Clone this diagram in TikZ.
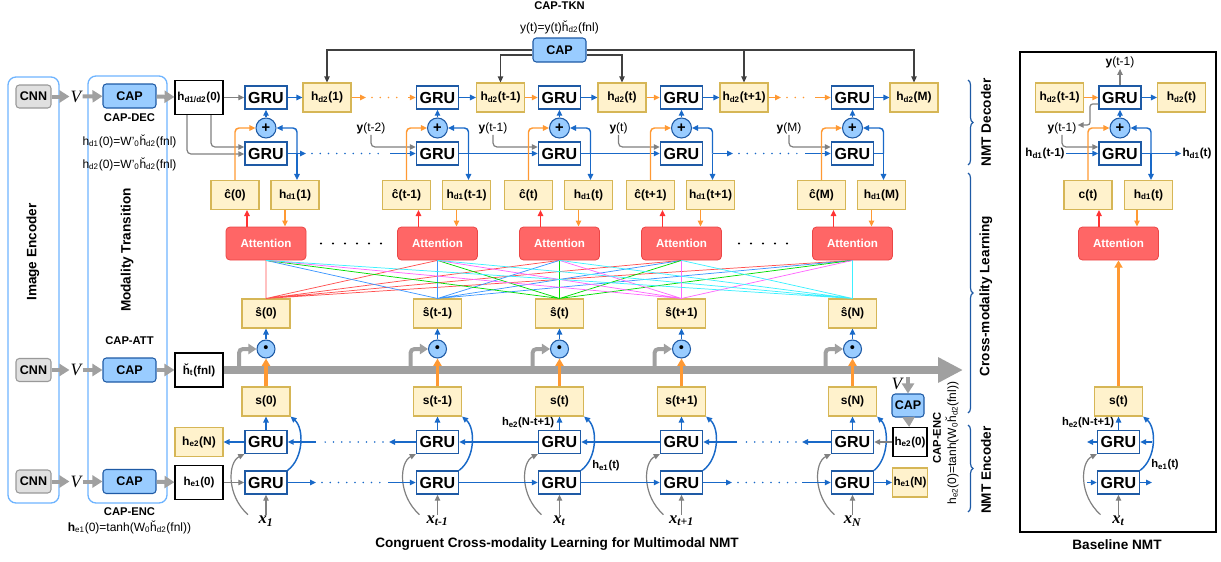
\documentclass[tikz,border=0pt]{standalone}
\usepackage{amssymb, mathtools, amsmath}
\usepackage{fontspec}
\setmainfont{Liberation Sans}
\newfontfamily\tmsfont{Liberation Serif}
\usetikzlibrary{arrows.meta,decorations.pathreplacing}

\definecolor{grublue}{RGB}{30,90,165}
\definecolor{lineblue}{RGB}{25,105,200}
\definecolor{capfill}{RGB}{153,204,255}
\definecolor{yelfill}{RGB}{255,242,204}
\definecolor{yelbord}{RGB}{214,182,86}
\definecolor{attfill}{RGB}{255,102,102}
\definecolor{attbord}{RGB}{235,70,70}
\definecolor{orangeln}{RGB}{255,153,51}
\definecolor{redln}{RGB}{255,51,51}
\definecolor{grayln}{RGB}{128,128,128}
\definecolor{barg}{RGB}{160,160,160}
\definecolor{panelblue}{RGB}{110,180,255}
\definecolor{lsred}{RGB}{255,80,80}
\definecolor{lsblue}{RGB}{60,150,255}
\definecolor{lsgreen}{RGB}{0,220,0}
\definecolor{lsmag}{RGB}{255,102,255}
\definecolor{lscyan}{RGB}{60,240,255}

\begin{document}
\begin{tikzpicture}[x=0.75pt,y=0.75pt,yscale=-1,
  gru/.style={draw=grublue,fill=white,line width=1pt,minimum width=31.5pt,minimum height=17.25pt,inner sep=0pt,font=\fontsize{12}{12}\selectfont\bfseries},
  ybox/.style={draw=yelbord,fill=yelfill,line width=0.8pt,minimum width=36pt,minimum height=21.75pt,inner sep=0pt,font=\fontsize{9}{9}\selectfont\bfseries},
  wbox/.style={draw=black,fill=white,line width=0.8pt,minimum width=36pt,minimum height=25.5pt,inner sep=0pt,font=\fontsize{8.7}{9}\selectfont\bfseries},
  capbox/.style={draw=grublue,fill=capfill,rounded corners=2.5pt,line width=0.8pt,minimum width=39.75pt,minimum height=18pt,inner sep=0pt,font=\fontsize{9.4}{10}\selectfont\bfseries},
  cnnbox/.style={draw=black!40,fill=black!12,rounded corners=2.5pt,line width=0.8pt,minimum width=26.25pt,minimum height=17.25pt,inner sep=0pt,font=\fontsize{9.4}{10}\selectfont\bfseries},
  attbox/.style={draw=attbord,fill=attfill,rounded corners=3pt,line width=0.6pt,minimum width=60pt,minimum height=24.75pt,inner sep=0pt,text=white,font=\fontsize{8.7}{9}\selectfont\bfseries},
  plusc/.style={circle,draw=grublue,fill=capfill,line width=0.8pt,minimum size=15pt,inner sep=0pt,font=\fontsize{11}{11}\selectfont\bfseries},
  dotc/.style={circle,draw=grublue,fill=capfill,line width=0.8pt,minimum size=13.5pt,inner sep=0pt,font=\fontsize{11}{11}\selectfont},
  lbl/.style={inner sep=0.75pt,font=\fontsize{9}{10}\selectfont},
  blbl/.style={inner sep=0.75pt,font=\fontsize{8.4}{9}\selectfont\bfseries},
  ttl/.style={inner sep=0.75pt,font=\fontsize{10.2}{11}\selectfont\bfseries},
  vlbl/.style={inner sep=0.75pt,font=\tmsfont\fontsize{13}{13}\selectfont\itshape},
  xlbl/.style={inner sep=0.75pt,font=\tmsfont\fontsize{12.5}{13}\selectfont\bfseries\itshape},
  arrtip/.style={-{Triangle[length=4.5pt,width=4pt]}},
  barr/.style={draw=lineblue,line width=1.1pt,arrtip},
  bln/.style={draw=lineblue,line width=1.1pt},
  bdots/.style={draw=lineblue,line width=1.3pt,line cap=round,dash pattern=on 0pt off 6.2pt},
  oarr/.style={draw=orangeln,line width=1.1pt,arrtip},
  odots/.style={draw=orangeln,line width=1.3pt,line cap=round,dash pattern=on 0pt off 6.2pt},
  rarr/.style={draw=redln,line width=1.1pt,arrtip},
  garr/.style={draw=grayln,line width=0.9pt,arrtip},
  gthick/.style={draw=barg,line width=3pt,-{Triangle[length=7.5pt,width=9pt]}},
  gbend/.style={draw=barg,line width=3pt,rounded corners=3pt,-{Triangle[length=6pt,width=7.5pt]}},
  mainbar/.style={draw=barg,line width=6pt,-{Triangle[length=18.75pt,width=18pt]}},
  othick/.style={draw=orangeln,line width=2.3pt,-{Triangle[length=5.5pt,width=6pt]}},
  capln/.style={draw=black!75,line width=0.9pt,arrtip},
  attln/.style={line width=0.55pt},
  dots6/.style={draw=black,line width=1.8pt,line cap=round,dash pattern=on 0pt off 9pt},
  panel/.style={draw=panelblue,line width=1pt,rounded corners=6pt},
  brc/.style={draw=grublue,line width=0.9pt,decorate,decoration={brace,amplitude=3.75pt}}
  ]
\useasboundingbox (0,0) rectangle (1221,561);

%Shape: Rounded Rect [image encoder / modality transition]
\draw [panel] (8,77) rectangle (59,503);
\draw [panel] (88,76) rectangle (167,503);
% Text Node
\draw (33,252) node [ttl,rotate=90] (imgenc) {Image Encoder};
% Text Node
\draw (127,250) node [ttl,rotate=90] (modtr) {Modality Transition};

% ---- left column: CNN -> V -> CAP ----
\draw (33.5,96.5) node [cnnbox] (cnnD) {CNN};
\draw (76,96.5) node [vlbl] (vD) {V};
\draw (129.5,96) node [capbox] (capD) {CAP};
\draw (199,97.5) node [wbox] (hdz) {h\textsubscript{d1/d2}(0)};
\draw [gthick] (cnnD) -- (vD);
\draw [gthick] (vD) -- (capD);
\draw [gthick] (capD) -- (hdz);
\draw (129.5,118) node [blbl] {CAP-DEC};
\draw (129.5,141) node [lbl] {h\textsubscript{d1}(0)=W'\textsubscript{0}ȟ\textsubscript{d2}(fnl)};
\draw (129.5,164) node [lbl] {h\textsubscript{d2}(0)=W'\textsubscript{0}ȟ\textsubscript{d2}(fnl)};

\draw (33.5,370) node [cnnbox] (cnnA) {CNN};
\draw (76,370) node [vlbl] (vA) {V};
\draw (129.5,370) node [capbox] (capA) {CAP};
\draw (199,370) node [wbox] (hft) {ȟ\textsubscript{t}(fnl)};
\draw [gthick] (cnnA) -- (vA);
\draw [gthick] (vA) -- (capA);
\draw [gthick] (capA) -- (hft);
\draw (129.5,341) node [blbl] {CAP-ATT};

\draw (33.5,481.5) node [cnnbox] (cnnE) {CNN};
\draw (76,481.5) node [vlbl] (vE) {V};
\draw (129.5,481.5) node [capbox] (capE) {CAP};
\draw (199,482.5) node [wbox] (hez) {h\textsubscript{e1}(0)};
\draw [gthick] (cnnE) -- (vE);
\draw [gthick] (vE) -- (capE);
\draw [gthick] (capE) -- (hez);
\draw (129.5,512) node [blbl] {CAP-ENC};
\draw (129.5,527) node [lbl] {\textbf{h}\textsubscript{e1}(0)=tanh(W\textsubscript{0}ȟ\textsubscript{d2}(fnl))};

% ---- CAP-TKN ----
\draw (559.5,6) node [blbl] {CAP-TKN};
\draw (559.5,27) node [lbl] {y(t)=y(t)ȟ\textsubscript{d2}(fnl)};
\draw (559.5,50) node [capbox] (capT) {CAP};

% ---- step 1 ----
\draw (266,97.5) node [gru] (gdu1) {GRU};
\draw (266,153.5) node [gru] (gdl1) {GRU};
\draw (266,128) node [plusc] (pl1) {+};
\draw (327,97.5) node [ybox] (hdt1) {h\textsubscript{d2}(1)};
\draw (235,195) node [ybox] (ch1) {ĉ(0)};
\draw (295,195) node [ybox] (hdo1) {h\textsubscript{d1}(1)};
\draw (266,243.5) node [attbox] (att1) {Attention};
\draw (266,313.5) node [ybox] (sh1) {ŝ(0)};
\draw (266,349) node [dotc] (dt1) {\textbullet};
\draw (266,401.5) node [ybox] (s1) {s(0)};
\draw (266,442) node [gru] (geu1) {GRU};
\draw (266,482.5) node [gru] (gel1) {GRU};
\draw (266,521) node [xlbl] (xin1) {x\textsubscript{1}};
\coordinate (jn1) at (297,153.5);
\coordinate (br1) at (239,370);

% ---- step t-1 ----
\draw (437.5,97.5) node [gru] (gdu2) {GRU};
\draw (437.5,153.5) node [gru] (gdl2) {GRU};
\draw (437.5,128) node [plusc] (pl2) {+};
\draw (500.5,97.5) node [ybox] (hdt2) {h\textsubscript{d2}(t-1)};
\draw (406.5,195) node [ybox] (ch2) {ĉ(t-1)};
\draw (466.5,195) node [ybox] (hdo2) {h\textsubscript{d1}(t-1)};
\draw (437.5,243.5) node [attbox] (att2) {Attention};
\draw (437.5,313.5) node [ybox] (sh2) {ŝ(t-1)};
\draw (437.5,349) node [dotc] (dt2) {\textbullet};
\draw (437.5,401.5) node [ybox] (s2) {s(t-1)};
\draw (437.5,442) node [gru] (geu2) {GRU};
\draw (437.5,482.5) node [gru] (gel2) {GRU};
\draw (437.5,521) node [xlbl] (xin2) {x\textsubscript{t-1}};
\draw (371,128) node [lbl] (ylb2) {\textbf{y}(t-2)};
\coordinate (jn2) at (468.5,153.5);
\coordinate (br2) at (410.5,370);

% ---- step t ----
\draw (559.5,97.5) node [gru] (gdu3) {GRU};
\draw (559.5,153.5) node [gru] (gdl3) {GRU};
\draw (559.5,128) node [plusc] (pl3) {+};
\draw (622,97.5) node [ybox] (hdt3) {h\textsubscript{d2}(t)};
\draw (528.5,195) node [ybox] (ch3) {ĉ(t)};
\draw (588.5,195) node [ybox] (hdo3) {h\textsubscript{d1}(t)};
\draw (559.5,243.5) node [attbox] (att3) {Attention};
\draw (559.5,313.5) node [ybox] (sh3) {ŝ(t)};
\draw (559.5,349) node [dotc] (dt3) {\textbullet};
\draw (559.5,401.5) node [ybox] (s3) {s(t)};
\draw (559.5,442) node [gru] (geu3) {GRU};
\draw (559.5,482.5) node [gru] (gel3) {GRU};
\draw (559.5,521) node [xlbl] (xin3) {x\textsubscript{t}};
\draw (493,128) node [lbl] (ylb3) {\textbf{y}(t-1)};
\draw (528,423) node [blbl] {h\textsubscript{e2}(N-t+1)};
\draw (606,466) node [blbl] {h\textsubscript{e1}(t)};
\coordinate (jn3) at (590.5,153.5);
\coordinate (br3) at (532.5,370);

% ---- step t+1 ----
\draw (681.5,97.5) node [gru] (gdu4) {GRU};
\draw (681.5,153.5) node [gru] (gdl4) {GRU};
\draw (681.5,128) node [plusc] (pl4) {+};
\draw (744,97.5) node [ybox] (hdt4) {h\textsubscript{d2}(t+1)};
\draw (650.5,195) node [ybox] (ch4) {ĉ(t+1)};
\draw (710.5,195) node [ybox] (hdo4) {h\textsubscript{d1}(t+1)};
\draw (681.5,243.5) node [attbox] (att4) {Attention};
\draw (681.5,313.5) node [ybox] (sh4) {ŝ(t+1)};
\draw (681.5,349) node [dotc] (dt4) {\textbullet};
\draw (681.5,401.5) node [ybox] (s4) {s(t+1)};
\draw (681.5,442) node [gru] (geu4) {GRU};
\draw (681.5,482.5) node [gru] (gel4) {GRU};
\draw (681.5,521) node [xlbl] (xin4) {x\textsubscript{t+1}};
\draw (618.5,128) node [lbl] (ylb4) {\textbf{y}(t)};
\coordinate (jn4) at (712.5,153.5);
\coordinate (br4) at (654.5,370);

% ---- step M / N ----
\draw (852.5,97.5) node [gru] (gdu5) {GRU};
\draw (852.5,153.5) node [gru] (gdl5) {GRU};
\draw (852.5,128) node [plusc] (pl5) {+};
\draw (914,97.5) node [ybox] (hdt5) {h\textsubscript{d2}(M)};
\draw (821.5,195) node [ybox] (ch5) {ĉ(M)};
\draw (881.5,195) node [ybox] (hdo5) {h\textsubscript{d1}(M)};
\draw (852.5,243.5) node [attbox] (att5) {Attention};
\draw (852.5,313.5) node [ybox] (sh5) {ŝ(N)};
\draw (852.5,349) node [dotc] (dt5) {\textbullet};
\draw (852.5,401.5) node [ybox] (s5) {s(N)};
\draw (852.5,442) node [gru] (geu5) {GRU};
\draw (852.5,482.5) node [gru] (gel5) {GRU};
\draw (852.5,521) node [xlbl] (xin5) {x\textsubscript{N}};
\draw (789,128) node [lbl] (ylb5) {\textbf{y}(M)};
\coordinate (jn5) at (883.5,153.5);
\coordinate (br5) at (825.5,370);

% ---- encoder end (right) ----
\draw (908,405.5) node [capbox,minimum width=24pt,minimum height=17.25pt] (capS) {CAP};
\draw (897,384) node [vlbl] (vS) {V};
\draw (910,442) node [wbox,minimum width=25.5pt,minimum height=21.75pt] (hez2) {h\textsubscript{e2}(0)};
\draw (910,482.5) node [ybox,minimum width=26pt,font=\fontsize{8.7}{9}\selectfont\bfseries] (hen2) {h\textsubscript{e1}(N)};
\draw (199,442) node [ybox] (hen) {h\textsubscript{e2}(N)};
\draw (937,438) node [blbl,rotate=90] {CAP-ENC};
\draw (952,443) node [lbl,rotate=90] {h\textsubscript{e2}(0)=tanh(W\textsubscript{0}ȟ\textsubscript{d2}(fnl))};

% ---- gray bar and bends ----
\draw [gbend] (br1) |- (dt1);
\draw [gbend] (br2) |- (dt2);
\draw [gbend] (br3) |- (dt3);
\draw [gbend] (br4) |- (dt4);
\draw [gbend] (br5) |- (dt5);
\draw [mainbar] (hft) -- (963,370);

% ---- CAP-TKN lines ----
\draw [capln] (capT.west) -| (hdt1);
\draw [capln] (capT.east) -| (hdt5);
\draw [capln] (capT.west |- 0,55) -| (hdt2);
\draw [capln] (capT.east |- 0,55) -| (hdt3);
\draw [capln] (hdt4 |- capT.east) -- (hdt4);

% ---- decoder upper chain ----
\draw [garr] (hdz) -- (gdu1);
\draw [oarr] (hdt1) -- (366,97.5);
\draw [odots] (372,97.5) -- (404,97.5);
\draw [oarr] (408,97.5) -- (gdu2);
\draw [oarr] (hdt2) -- (gdu3);
\draw [oarr] (hdt3) -- (gdu4);
\draw [oarr] (hdt4) -- (781,97.5);
\draw [odots] (787,97.5) -- (811,97.5);
\draw [oarr] (815,97.5) -- (gdu5);

% ---- decoder lower chain ----
\draw [garr,rounded corners=3pt] (hdz.south -| 187,0) |- (gdl1.west |- 0,154);
\draw [garr,rounded corners=3pt] (hdz.south -| 211,0) |- (gdl1.west |- 0,147);
\draw [garr,rounded corners=3pt] (ylb2.south) |- (gdl2.west |- 0,147);
\draw [garr,rounded corners=3pt] (ylb3.south) |- (gdl3.west |- 0,147);
\draw [garr,rounded corners=3pt] (ylb4.south) |- (gdl4.west |- 0,147);
\draw [garr,rounded corners=3pt] (ylb5.south) |- (gdl5.west |- 0,147);
\draw [bln] (gdl1) -- (jn1);
\draw [barr] (jn1) -- (306,153.5);
\draw [bdots] (312,153.5) -- (380,153.5);
\draw [barr] (390,153.5) -- (gdl2);
\draw [barr] (gdl2) -- (gdl3);
\draw [barr] (gdl3) -- (gdl4);
\draw [barr] (jn4) -- (733,153.5);
\draw [bdots] (739,153.5) -- (797,153.5);
\draw [barr] (805,153.5) -- (gdl5);
\draw [bln] (gdl5) -- (jn5);

% ---- per step connectors ----
\draw [barr] (gdu1) -- (hdt1);
\draw [barr] (pl1) -- (gdu1);
\draw [oarr,rounded corners=3pt] (ch1.north) |- (pl1);
\draw [barr,rounded corners=3pt] (jn1) |- (pl1);
\draw [barr] (jn1) -- (jn1 |- hdo1.north);
\draw [rarr] (att1.north -| 247,0) -- (ch1.south -| 247,0);
\draw [oarr] (hdo1.south -| 285,0) -- (att1.north -| 285,0);
\draw [barr] (dt1) -- (sh1);
\draw [barr] (geu1) -- (s1);
\draw [barr] (gel1.north east) .. controls (304,458) and (304,428) .. (s1.south east);
\draw [garr] (248,0 |- xin1.north) .. controls (226,495) and (228,462) .. (geu1.south west);
\draw [garr] (xin1) -- (gel1);

\draw [barr] (gdu2) -- (hdt2);
\draw [barr] (pl2) -- (gdu2);
\draw [oarr,rounded corners=3pt] (ch2.north) |- (pl2);
\draw [barr,rounded corners=3pt] (jn2) |- (pl2);
\draw [barr] (jn2) -- (jn2 |- hdo2.north);
\draw [rarr] (att2.north -| 418.5,0) -- (ch2.south -| 418.5,0);
\draw [oarr] (hdo2.south -| 456.5,0) -- (att2.north -| 456.5,0);
\draw [barr] (dt2) -- (sh2);
\draw [barr] (geu2) -- (s2);
\draw [barr] (gel2.north east) .. controls (475.5,458) and (475.5,428) .. (s2.south east);
\draw [garr] (419.5,0 |- xin2.north) .. controls (397.5,495) and (399.5,462) .. (geu2.south west);
\draw [garr] (xin2) -- (gel2);

\draw [barr] (gdu3) -- (hdt3);
\draw [barr] (pl3) -- (gdu3);
\draw [oarr,rounded corners=3pt] (ch3.north) |- (pl3);
\draw [barr,rounded corners=3pt] (jn3) |- (pl3);
\draw [barr] (jn3) -- (jn3 |- hdo3.north);
\draw [rarr] (att3.north -| 540.5,0) -- (ch3.south -| 540.5,0);
\draw [oarr] (hdo3.south -| 578.5,0) -- (att3.north -| 578.5,0);
\draw [barr] (dt3) -- (sh3);
\draw [barr] (geu3) -- (s3);
\draw [barr] (gel3.north east) .. controls (597.5,458) and (597.5,428) .. (s3.south east);
\draw [garr] (541.5,0 |- xin3.north) .. controls (519.5,495) and (521.5,462) .. (geu3.south west);
\draw [garr] (xin3) -- (gel3);

\draw [barr] (gdu4) -- (hdt4);
\draw [barr] (pl4) -- (gdu4);
\draw [oarr,rounded corners=3pt] (ch4.north) |- (pl4);
\draw [barr,rounded corners=3pt] (jn4) |- (pl4);
\draw [barr] (jn4) -- (jn4 |- hdo4.north);
\draw [rarr] (att4.north -| 662.5,0) -- (ch4.south -| 662.5,0);
\draw [oarr] (hdo4.south -| 700.5,0) -- (att4.north -| 700.5,0);
\draw [barr] (dt4) -- (sh4);
\draw [barr] (geu4) -- (s4);
\draw [barr] (gel4.north east) .. controls (719.5,458) and (719.5,428) .. (s4.south east);
\draw [garr] (663.5,0 |- xin4.north) .. controls (641.5,495) and (643.5,462) .. (geu4.south west);
\draw [garr] (xin4) -- (gel4);

\draw [barr] (gdu5) -- (hdt5);
\draw [barr] (pl5) -- (gdu5);
\draw [oarr,rounded corners=3pt] (ch5.north) |- (pl5);
\draw [barr,rounded corners=3pt] (jn5) |- (pl5);
\draw [barr] (jn5) -- (jn5 |- hdo5.north);
\draw [rarr] (att5.north -| 833.5,0) -- (ch5.south -| 833.5,0);
\draw [oarr] (hdo5.south -| 871.5,0) -- (att5.north -| 871.5,0);
\draw [barr] (dt5) -- (sh5);
\draw [barr] (geu5) -- (s5);
\draw [barr] (gel5.north east) .. controls (889,458) and (889,428) .. (s5.south east);
\draw [garr] (834.5,0 |- xin5.north) .. controls (812.5,495) and (814.5,462) .. (geu5.south west);
\draw [garr] (xin5) -- (gel5);

% ---- orange s -> dot ----
\draw [othick] (s1) -- (dt1);
\draw [othick] (s2) -- (dt2);
\draw [othick] (s3) -- (dt3);
\draw [othick] (s4) -- (dt4);
\draw [othick] (s5) -- (dt5);

% ---- encoder chains ----
\draw [barr] (geu1) -- (hen);
\draw [garr] (hez) -- (gel1);
\draw [barr] (geu2) -- (389,442);
\draw [bdots] (383,442) -- (322,442);
\draw [barr] (316,442) -- (geu1);
\draw [barr] (geu3) -- (geu2);
\draw [barr] (geu4) -- (geu3);
\draw [barr] (geu5) -- (802,442);
\draw [bdots] (796,442) -- (742,442);
\draw [barr] (737,442) -- (geu4);
\draw [barr] (gel1) -- (316,482.5);
\draw [bdots] (322,482.5) -- (383,482.5);
\draw [barr] (388,482.5) -- (gel2);
\draw [barr] (gel2) -- (gel3);
\draw [barr] (gel3) -- (gel4);
\draw [barr] (gel4) -- (732,482.5);
\draw [bdots] (738,482.5) -- (796,482.5);
\draw [barr] (802,482.5) -- (gel5);
\draw [gthick] (capS.north |- vS.north) -- (capS);
\draw [gthick] (capS) -- (hez2);
\draw [garr] (hez2) -- (geu5);
\draw [barr] (gel5) -- (hen2);

% ---- attention dots ----
\draw [dots6] (321,243.5) -- (381,243.5);
\draw [dots6] (739,243.5) -- (799,243.5);

% ---- cross-modality lines ----
\draw [attln,lsred] (sh1.north) -- (att1.south) (sh1.north) -- (att2.south) (sh1.north) -- (att3.south) (sh1.north) -- (att4.south) (sh1.north) -- (att5.south);
\draw [attln,lsblue] (sh2.north) -- (att1.south) (sh2.north) -- (att2.south) (sh2.north) -- (att3.south) (sh2.north) -- (att4.south) (sh2.north) -- (att5.south);
\draw [attln,lsgreen] (sh3.north) -- (att1.south) (sh3.north) -- (att2.south) (sh3.north) -- (att3.south) (sh3.north) -- (att4.south) (sh3.north) -- (att5.south);
\draw [attln,lsmag] (sh4.north) -- (att1.south) (sh4.north) -- (att2.south) (sh4.north) -- (att3.south) (sh4.north) -- (att4.south) (sh4.north) -- (att5.south);
\draw [attln,lscyan] (sh5.north) -- (att1.south) (sh5.north) -- (att2.south) (sh5.north) -- (att3.south) (sh5.north) -- (att4.south) (sh5.north) -- (att5.south);

% ---- braces ----
\draw [brc] (968,80) -- (968,165);
\draw [brc] (968,173) -- (968,413);
\draw [brc] (968,425) -- (968,512);
\draw (986,122.5) node [ttl,rotate=90] {NMT Decoder};
\draw (986,296) node [ttl,rotate=90] {Cross-modality Learning};
\draw (986,470) node [ttl,rotate=90] {NMT Encoder};

% ---- captions ----
\draw (557,544) node [ttl] {Congruent Cross-modality Learning for Multimodal NMT};
\draw (1117,545) node [ttl] {Baseline NMT};

% ---- baseline NMT ----
\draw [line width=0.9pt] (1020,52) rectangle (1216,532);
\draw (1120,97.5) node [gru] (bgu) {GRU};
\draw (1120,153.5) node [gru] (bgl) {GRU};
\draw (1120,128) node [plusc] (bpl) {+};
\draw (1059.5,97.5) node [ybox] (bhda) {h\textsubscript{d2}(t-1)};
\draw (1181.5,97.5) node [ybox] (bhdb) {h\textsubscript{d2}(t)};
\draw (1088,195) node [ybox] (bc) {c(t)};
\draw (1148.5,195) node [ybox] (bhdo) {h\textsubscript{d1}(t)};
\draw (1118.5,243.5) node [attbox] (batt) {Attention};
\draw (1118.5,401.5) node [ybox] (bs) {s(t)};
\draw (1118.5,442) node [gru] (beu) {GRU};
\draw (1118.5,482.5) node [gru] (bel) {GRU};
\draw (1118.5,521) node [xlbl] (bx) {x\textsubscript{t}};
\draw (1120,62) node [lbl] (byt) {\textbf{y}(t-1)};
\draw (1062,128) node [lbl] (bym) {\textbf{y}(t-1)};
\draw (1045,153.5) node [blbl,font=\fontsize{8.7}{9}\selectfont\bfseries] (bhin) {h\textsubscript{d1}(t-1)};
\draw (1197,153.5) node [blbl,font=\fontsize{8.7}{9}\selectfont\bfseries] (bhout) {h\textsubscript{d1}(t)};
\draw (1088,423) node [blbl] {h\textsubscript{e2}(N-t+1)};
\draw (1165,465) node [blbl] {h\textsubscript{e1}(t)};
\coordinate (bjn) at (1151,153.5);

\draw [garr] (bgu) -- (byt);
\draw [oarr] (bhda) -- (bgu);
\draw [barr] (bgu) -- (bhdb);
\draw [garr,rounded corners=2pt] (bgu.west |- 0,104) -| (1090,125) -- (bym.east |- 0,125);
\draw [garr,rounded corners=3pt] (bym.south) |- (bgl.west |- 0,147);
\draw [barr] (bhin) -- (bgl);
\draw [barr] (bgl) -- (bhout);
\draw [barr,rounded corners=3pt] (bjn) |- (bpl);
\draw [barr] (bjn) -- (bjn |- bhdo.north);
\draw [oarr,rounded corners=3pt] (bc.north) |- (bpl);
\draw [barr] (bpl) -- (bgu);
\draw [rarr] (batt.north -| 1099,0) -- (bc.south -| 1099,0);
\draw [oarr] (bhdo.south -| 1137,0) -- (batt.north -| 1137,0);
\draw [othick] (bs) -- (batt);
\draw [barr] (beu) -- (bs);
\draw [barr] (1152,442) -- (beu);
\draw [barr] (beu) -- (1087,442);
\draw [barr] (1087,482.5) -- (bel);
\draw [barr] (bel) -- (1152,482.5);
\draw [barr] (bel.north east) .. controls (1156.5,458) and (1156.5,428) .. (bs.south east);
\draw [garr] (1100.5,0 |- bx.north) .. controls (1078.5,495) and (1080.5,462) .. (beu.south west);
\draw [garr] (bx) -- (bel);

\end{tikzpicture}
\end{document}
